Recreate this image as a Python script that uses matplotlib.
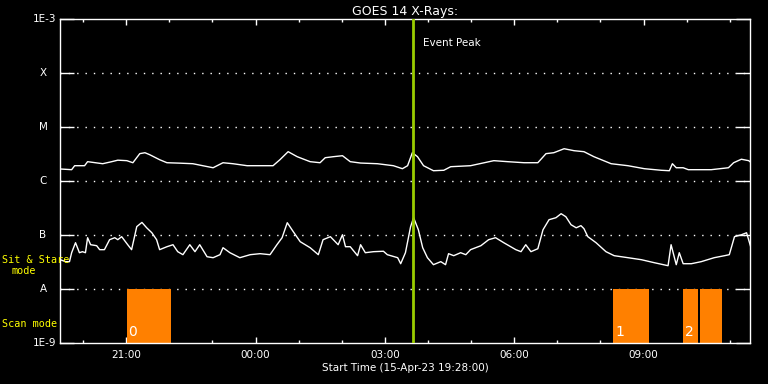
import numpy as np
import matplotlib
matplotlib.use("Agg")
import matplotlib.pyplot as plt
import matplotlib.dates as mdates
from matplotlib.ticker import FixedLocator, NullLocator

start = np.datetime64("2023-04-15T19:28")
end = np.datetime64("2023-04-16T11:28")

# long channel (1-8 A), hours since start / flux W m^-2
long_hours = [0.0, 0.27, 0.34, 0.57, 0.64, 0.99, 1.20, 1.34, 1.55, 1.69, 1.85, 1.97, 2.08,
              2.31, 2.48, 2.78, 3.08, 3.31, 3.55, 3.78, 4.01, 4.34, 4.64, 4.94, 5.10, 5.29,
              5.50, 5.80, 6.03, 6.15, 6.34, 6.55, 6.73, 6.97, 7.36, 7.73, 7.94, 8.06, 8.17,
              8.29, 8.43, 8.66, 8.90, 9.06, 9.52, 10.06, 10.38, 10.76, 11.08, 11.27, 11.45,
              11.69, 11.92, 12.15, 12.38, 12.78, 13.17, 13.55, 13.94, 14.13, 14.20, 14.29,
              14.45, 14.57, 15.10, 15.50, 15.62, 15.80, 15.97, 16.03]
long_flux = [1.67e-6, 1.62e-6, 1.92e-6, 1.92e-6, 2.28e-6, 2.09e-6, 2.28e-6, 2.43e-6, 2.38e-6,
             2.18e-6, 3.21e-6, 3.34e-6, 3.07e-6, 2.48e-6, 2.18e-6, 2.14e-6, 2.09e-6, 1.92e-6,
             1.76e-6, 2.18e-6, 2.09e-6, 1.92e-6, 1.92e-6, 1.92e-6, 2.48e-6, 3.49e-6, 2.82e-6,
             2.28e-6, 2.18e-6, 2.70e-6, 2.82e-6, 2.94e-6, 2.28e-6, 2.15e-6, 2.09e-6, 1.92e-6,
             1.69e-6, 1.92e-6, 3.34e-6, 2.82e-6, 1.92e-6, 1.55e-6, 1.58e-6, 1.84e-6, 1.92e-6,
             2.38e-6, 2.28e-6, 2.18e-6, 2.18e-6, 3.21e-6, 3.34e-6, 3.96e-6, 3.64e-6, 3.49e-6,
             2.82e-6, 2.09e-6, 1.92e-6, 1.69e-6, 1.58e-6, 1.55e-6, 2.09e-6, 1.76e-6, 1.76e-6,
             1.62e-6, 1.62e-6, 1.76e-6, 2.18e-6, 2.53e-6, 2.38e-6, 2.18e-6]

# short channel (0.5-4 A)
short_hours = [0.0, 0.13, 0.22, 0.27, 0.36, 0.45, 0.52, 0.59, 0.64, 0.71, 0.85, 0.92, 1.03,
               1.15, 1.27, 1.34, 1.43, 1.57, 1.66, 1.78, 1.90, 2.01, 2.13, 2.24, 2.31, 2.48,
               2.62, 2.73, 2.85, 3.01, 3.13, 3.24, 3.41, 3.55, 3.71, 3.78, 3.94, 4.17, 4.41,
               4.64, 4.87, 5.03, 5.15, 5.27, 5.41, 5.57, 5.80, 5.99, 6.10, 6.27, 6.45, 6.55,
               6.62, 6.73, 6.90, 6.97, 7.08, 7.27, 7.50, 7.59, 7.83, 7.90, 8.01, 8.13, 8.20,
               8.31, 8.41, 8.52, 8.66, 8.83, 8.94, 9.01, 9.13, 9.29, 9.41, 9.52, 9.76, 9.94,
               10.10, 10.29, 10.57, 10.69, 10.80, 10.92, 11.08, 11.20, 11.34, 11.50, 11.62,
               11.73, 11.85, 11.97, 12.08, 12.15, 12.24, 12.43, 12.66, 12.85, 13.17, 13.48,
               13.78, 14.10, 14.17, 14.29, 14.36, 14.45, 14.64, 14.87, 15.17, 15.41, 15.52,
               15.64, 15.80, 15.92, 16.03]
short_flux = [3.5e-8, 3.21e-8, 3.21e-8, 4.70e-8, 7.20e-8, 4.70e-8, 4.91e-8, 4.70e-8, 8.91e-8,
              6.61e-8, 6.34e-8, 5.35e-8, 5.35e-8, 8.19e-8, 8.91e-8, 8.19e-8, 9.31e-8, 6.61e-8,
              5.35e-8, 1.43e-7, 1.71e-7, 1.36e-7, 1.10e-7, 8.19e-8, 5.35e-8, 6.07e-8, 6.61e-8,
              4.91e-8, 4.32e-8, 6.61e-8, 4.91e-8, 6.61e-8, 3.96e-8, 3.80e-8, 4.32e-8, 5.82e-8,
              4.70e-8, 3.80e-8, 4.32e-8, 4.51e-8, 4.32e-8, 6.61e-8, 8.91e-8, 1.69e-7, 1.15e-7,
              7.52e-8, 5.82e-8, 4.32e-8, 8.19e-8, 9.31e-8, 6.61e-8, 1.01e-7, 6.07e-8, 6.07e-8,
              4.14e-8, 6.61e-8, 4.70e-8, 4.91e-8, 5.0e-8, 4.32e-8, 3.80e-8, 2.94e-8, 4.70e-8,
              1.43e-7, 2.09e-7, 1.25e-7, 5.82e-8, 3.80e-8, 2.82e-8, 3.21e-8, 2.82e-8, 4.51e-8,
              4.14e-8, 4.70e-8, 4.32e-8, 5.35e-8, 6.34e-8, 8.19e-8, 8.91e-8, 7.20e-8, 5.35e-8,
              4.91e-8, 6.61e-8, 4.91e-8, 5.57e-8, 1.25e-7, 1.92e-7, 2.09e-7, 2.48e-7, 2.18e-7,
              1.55e-7, 1.36e-7, 1.49e-7, 1.31e-7, 9.31e-8, 7.20e-8, 4.91e-8, 4.14e-8, 3.80e-8,
              3.49e-8, 3.07e-8, 2.70e-8, 6.61e-8, 2.82e-8, 4.70e-8, 2.94e-8, 2.94e-8, 3.21e-8,
              3.80e-8, 4.14e-8, 4.32e-8, 9.31e-8, 1.01e-7, 1.10e-7, 5.57e-8]

# observing blocks (scan mode)
block_start = ["2023-04-15T21:01", "2023-04-16T08:18", "2023-04-16T09:55", "2023-04-16T10:18"]
block_end = ["2023-04-15T22:03", "2023-04-16T09:07", "2023-04-16T10:15", "2023-04-16T10:49"]
block_labels = ["0", "1", "2", ""]

event_peak = np.datetime64("2023-04-16T03:39")

ytick_vals = [1e-9, 1e-8, 1e-7, 1e-6, 1e-5, 1e-4, 1e-3]
ytick_labels = ["1E-9", "A", "B", "C", "M", "X", "1E-3"]


def hours_to_time(h):
    return start + (np.array(h) * 3600).astype("timedelta64[s]")


fig = plt.figure(figsize=(7.68, 3.84), dpi=100, facecolor="black")
ax = fig.add_axes([60 / 768, 41 / 384, 690 / 768, 324 / 384], facecolor="black")
ax.set_yscale("log")
ax.set_ylim(1e-9, 1e-3)
ax.set_xlim(start, end)

# grid lines at class levels
for v in ytick_vals[1:-1]:
    ax.axhline(v, color="white", lw=1.0, ls=(0, (1, 5)), zorder=1)

bs = mdates.date2num(np.array(block_start, dtype="datetime64[m]"))
be = mdates.date2num(np.array(block_end, dtype="datetime64[m]"))
ax.bar(bs, 1e-8 - 1e-9, bottom=1e-9, width=be - bs, align="edge", color="#ff8000",
       zorder=2)
for x0, lab in zip(bs, block_labels):
    ax.annotate(lab, (x0, 1e-9), xytext=(1.2, 3), textcoords="offset points",
                color="white", fontsize=10, ha="left", va="bottom", zorder=4)

ax.plot(hours_to_time(long_hours), long_flux, color="white", lw=1.0, zorder=3)
ax.plot(hours_to_time(short_hours), short_flux, color="white", lw=1.0, zorder=3)

ax.axvline(event_peak, color="#99cc00", lw=2.0, zorder=5)
ax.annotate("Event Peak", (event_peak, 3.6e-4), xytext=(7, 0), textcoords="offset points",
            color="white", fontsize=7.5, va="center", ha="left")

# axes styling
for s in ax.spines.values():
    s.set_color("white")
    s.set_linewidth(1.0)

ax.yaxis.set_major_locator(FixedLocator(ytick_vals))
ax.yaxis.set_minor_locator(NullLocator())
ax.set_yticklabels(["" for _ in ytick_vals])
ax.tick_params(axis="y", which="major", direction="in", length=10, width=1.0,
               color="white", left=True, right=True)
ytf = ax.get_yaxis_transform()
for v, lab in zip(ytick_vals, ytick_labels):
    if len(lab) > 1:
        ax.text(-4 / 690, v, lab, transform=ytf, color="white", fontsize=7.5,
                ha="right", va="center")
    else:
        ax.text(-17 / 690, v, lab, transform=ytf, color="white", fontsize=7.5,
                ha="center", va="center")

ax.xaxis.set_major_locator(mdates.HourLocator(byhour=range(0, 24, 3)))
ax.xaxis.set_minor_locator(mdates.HourLocator())
ax.xaxis.set_major_formatter(mdates.DateFormatter("%H:%M"))
ax.tick_params(axis="x", which="major", direction="in", length=4.5, width=1.0,
               color="white", labelcolor="white", labelsize=7.5, top=True, pad=5)
ax.tick_params(axis="x", which="minor", direction="in", length=2.3, width=1.0,
               color="white", top=True)

ax.set_xlabel("Start Time (15-Apr-23 19:28:00)", color="white", fontsize=7.5, labelpad=2)
ax.set_title("GOES 14 X-Rays:", color="white", fontsize=9, pad=3)

mono = "DejaVu Sans Mono"
fig.text(2 / 768, 1 - 260 / 384, "Sit & Stare", color="#ffff00", fontsize=7.3,
         family=mono, ha="left", va="center")
fig.text(24 / 768, 1 - 271 / 384, "mode", color="#ffff00", fontsize=7.3,
         family=mono, ha="center", va="center")
fig.text(2 / 768, 1 - 324 / 384, "Scan mode", color="#ffff00", fontsize=7.3,
         family=mono, ha="left", va="center")

fig.savefig("out.png", dpi=100, facecolor="black")
